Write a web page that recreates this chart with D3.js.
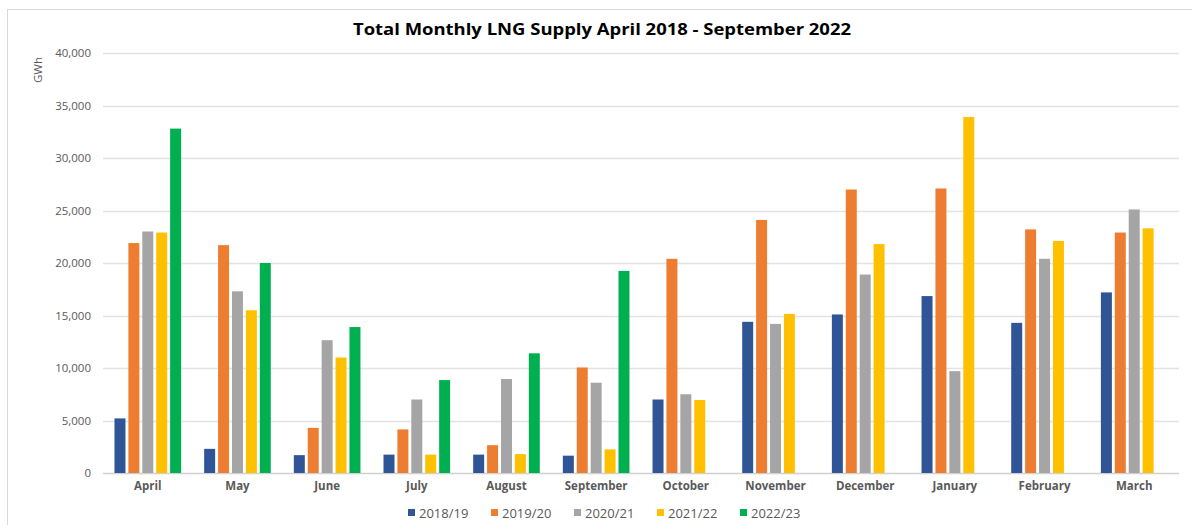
<!DOCTYPE html>
<html>
<head>
<meta charset="utf-8">
<script src="https://cdn.jsdelivr.net/npm/d3@7"></script>
<style>
  body { margin: 0; background: #fff; }
  svg { display: block; font-family: "Open Sans", sans-serif; }
</style>
</head>
<body>
<svg id="chart" width="1192" height="525"></svg>
<script>
// maanden (categorieen)
const months = ["April", "May", "June", "July", "August", "September",
  "October", "November", "December", "January", "February", "March"];

// seizoenen (series)
const seasons = ["2018/19", "2019/20", "2020/21", "2021/22", "2022/23"];

// waarden in GWh
const s1819 = [5200, 2300, 1700, 1750, 1750, 1650, 7000, 14400, 15100, 16850, 14300, 17200];
const s1920 = [21900, 21700, 4300, 4150, 2650, 10050, 20400, 24100, 27000, 27100, 23200, 22900];
const s2021 = [23000, 17300, 12650, 7000, 8950, 8600, 7500, 14200, 18900, 9700, 20400, 25100];
const s2122 = [22900, 15500, 11000, 1750, 1800, 2250, 6950, 15150, 21800, 33900, 22100, 23300];
const s2223 = [32800, 20000, 13900, 8850, 11400, 19250, null, null, null, null, null, null];

const yTicks = [0, 5000, 10000, 15000, 20000, 25000, 30000, 35000, 40000];

const colors = ["#2F5597", "#ED7D31", "#A5A5A5", "#FFC000", "#00B050"];
const series = [s1819, s1920, s2021, s2122, s2223];

const svg = d3.select("#chart");

// rand van het grafiekvak
svg.append("rect")
  .attr("x", 7.5).attr("y", 9.5)
  .attr("width", 1200).attr("height", 600)
  .attr("fill", "none").attr("stroke", "#d9d9d9");

const plot = { left: 103, right: 1179, top: 53, bottom: 473 };

const x0 = d3.scaleBand()
  .domain(months)
  .range([plot.left, plot.right])
  .paddingInner(0.257)
  .paddingOuter(0.128);

const x1 = d3.scaleBand()
  .domain(seasons)
  .range([0, x0.bandwidth()])
  .paddingInner(0.21);

const y = d3.scaleLinear().domain([0, 40000]).range([plot.bottom, plot.top]);

// gridlijnen
svg.append("g")
  .selectAll("line")
  .data(yTicks)
  .join("line")
  .attr("x1", plot.left).attr("x2", plot.right)
  .attr("y1", (d) => Math.round(y(d)) + 0.5)
  .attr("y2", (d) => Math.round(y(d)) + 0.5)
  .attr("stroke", (d) => (d === 0 ? "#d0d0d0" : "#e3e3e3"))
  .attr("stroke-width", 1.5);

// y-as labels
const yAxis = svg.append("g")
  .attr("transform", "translate(" + (plot.left - 12) + ",0)")
  .call(d3.axisLeft(y).tickValues(yTicks).tickFormat(d3.format(",")).tickSize(0));
yAxis.select(".domain").remove();
yAxis.selectAll("text")
  .attr("x", 0)
  .attr("fill", "#595959")
  .style("font-size", "11.5px")
  .style("font-family", "Open Sans, sans-serif");

// eenheid
svg.append("text")
  .attr("transform", "translate(42,70) rotate(-90)")
  .attr("text-anchor", "middle")
  .attr("fill", "#595959")
  .style("font-size", "11.5px")
  .text("GWh");

// bars
const groups = svg.append("g")
  .selectAll("g")
  .data(months)
  .join("g")
  .attr("transform", (d) => "translate(" + x0(d) + ",0)");

groups.selectAll("rect")
  .data((m, i) => seasons
    .map((s, k) => ({ season: s, value: series[k][i], k: k }))
    .filter((d) => d.value != null))
  .join("rect")
  .attr("x", (d) => x1(d.season))
  .attr("width", x1.bandwidth())
  .attr("y", (d) => y(d.value))
  .attr("height", (d) => y(0) - y(d.value))
  .attr("fill", (d) => colors[d.k]);

// x-as labels
const xAxis = svg.append("g")
  .attr("transform", "translate(0," + (plot.bottom + 6) + ")")
  .call(d3.axisBottom(x0).tickSize(0));
xAxis.select(".domain").remove();
xAxis.selectAll("text")
  .attr("fill", "#595959")
  .style("font-size", "11.5px")
  .style("font-weight", "bold")
  .style("font-family", "Open Sans, sans-serif");

// titel
svg.append("text")
  .attr("x", 602)
  .attr("y", 35)
  .attr("text-anchor", "middle")
  .attr("fill", "#000")
  .attr("textLength", 498)
  .attr("lengthAdjust", "spacingAndGlyphs")
  .style("font-size", "16px")
  .style("font-weight", "bold")
  .text("Total Monthly LNG Supply April 2018 - September 2022");

// legenda
const legend = svg.append("g")
  .selectAll("g")
  .data(seasons)
  .join("g")
  .attr("transform", (d, i) => "translate(" + (408 + i * 83) + ",513)");

legend.append("rect")
  .attr("x", 0).attr("y", -4)
  .attr("width", 7).attr("height", 7)
  .attr("fill", (d, i) => colors[i]);

legend.append("text")
  .attr("x", 11)
  .attr("dy", "0.35em")
  .attr("fill", "#595959")
  .style("font-size", "13px")
  .text((d) => d);
</script>
</body>
</html>
